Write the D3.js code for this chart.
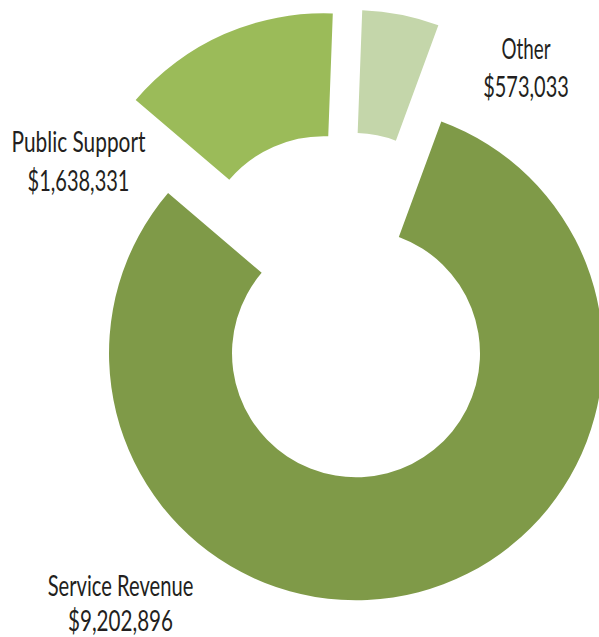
<!DOCTYPE html>
<html>
<head>
<meta charset="utf-8">
<script src="https://cdn.jsdelivr.net/npm/d3@7"></script>
<style>
  html, body { margin: 0; padding: 0; background: #ffffff; }
  svg { display: block; }
</style>
</head>
<body>
<svg id="chart" width="599" height="637"></svg>
<script>
// ---- data ----
const categories = ["Service Revenue", "Public Support", "Other"];
const values = [9202896, 1638331, 573033];
const valueLabels = ["$9,202,896", "$1,638,331", "$573,033"];

// ---- styles / layout ----
const colors = ["#7f9a48", "#9bbb59", "#c4d6aa"];
const center = { x: 343.5, y: 305.5 };
const outerR = 247, innerR = 124, explode = 49.4;
const startDeg = 20.2;
// label layout: [centerX, baseline1, baseline2, width1, width2]
const labelLayout = [
  [120.5, 596, 631, 145.6, 105],
  [78.5, 152, 190.5, 134, 102],
  [526, 58.5, 96.5, 49, 85.6]
];

const svg = d3.select("#chart");
const g = svg.append("g").attr("transform", `translate(${center.x},${center.y})`);

const start = startDeg * Math.PI / 180;
const pie = d3.pie().sort(null).startAngle(start).endAngle(start + 2 * Math.PI);
const arcs = pie(values);
const arc = d3.arc().innerRadius(innerR).outerRadius(outerR);

g.selectAll("path.slice")
  .data(arcs)
  .join("path")
  .attr("class", "slice")
  .attr("fill", (d, i) => colors[i])
  .attr("transform", d => {
    const m = (d.startAngle + d.endAngle) / 2;
    return `translate(${explode * Math.sin(m)},${-explode * Math.cos(m)})`;
  })
  .attr("d", arc);

const lab = svg.append("g")
  .attr("font-family", "Lato, 'Open Sans', sans-serif")
  .attr("font-size", 28.5)
  .attr("fill", "#231f20")
  .attr("text-anchor", "middle");

function fitText(txt, x, y, w) {
  const t = lab.append("text").attr("x", 0).attr("y", 0).text(txt);
  const len = t.node().getComputedTextLength() || w;
  t.attr("transform", `translate(${x},${y}) scale(${w / len},1)`);
}

categories.forEach((c, i) => {
  const L = labelLayout[i];
  fitText(c, L[0], L[1], L[3]);
  fitText(valueLabels[i], L[0], L[2], L[4]);
});
</script>
</body>
</html>
